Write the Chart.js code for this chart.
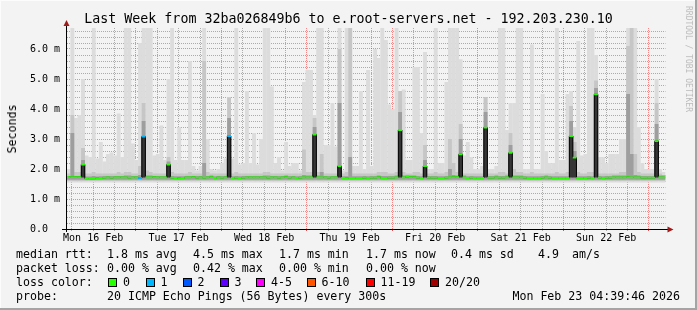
<!DOCTYPE html>
<html>
<head>
<meta charset="utf-8">
<script src="https://cdn.jsdelivr.net/npm/chart.js@4.4.1/dist/chart.umd.min.js"></script>
<style>
html, body { margin: 0; padding: 0; background: #fff; }
#wrap { position: relative; width: 697px; height: 310px; background: #f3f3f3; overflow: hidden;
  font-family: 'DejaVu Sans Mono', monospace; color: #000;
  box-shadow: inset -2px -2px 0 #a4a4a4, inset 1px 1px 0 #fcfcfc; }
#wrap canvas { position: absolute; left: 0; top: 0; }
.t { position: absolute; white-space: pre; font-size: 11.6px; line-height: 14px; }
.box { position: absolute; width: 7px; height: 7px; border: 1px solid #000; top: 278px; }
</style>
</head>
<body>
<div id="wrap">
  <canvas id="smoke" width="697" height="310"></canvas>
  <div class="t" style="left:0;width:697px;text-align:center;top:11px;font-size:13.3px;line-height:16px">Last Week from 32ba026849b6 to e.root-servers.net - 192.203.230.10</div>
  <div class="t" style="left:12px;top:129px;transform:translate(-50%,-50%) rotate(-90deg)">Seconds</div>
  <div class="t" style="left:688px;top:59px;font-size:8px;line-height:10px;color:#bcbcbc;transform:translate(-50%,-50%) rotate(90deg)">RRDTOOL / TOBI OETIKER</div>
  <div id="legend"></div>
</div>
<script>
// hours counted from Mon 16 Feb 00:00, graph starts at 04:39
const START_H = 4.66;
const dayLabels = ['Mon 16 Feb', 'Tue 17 Feb', 'Wed 18 Feb', 'Thu 19 Feb', 'Fri 20 Feb', 'Sat 21 Feb', 'Sun 22 Feb'];

// ms, one value per hour
const smokeLow = [1.55, 1.60, 1.64];
const CORE_BASE = 1.72;

const lightTop = [
  2.0, 7.5, 3.7, 3.8, 5.0, 2.45, 2.4, 7.5, 2.35, 2.9,
  2.25, 2.5, 2.55, 2.45, 3.85, 2.4, 7.5, 7.5, 2.85, 2.3,
  6.2, 7.5, 7.5, 7.5, 2.45, 2.5, 3.45, 2.3, 5.0, 7.5,
  2.3, 3.4, 2.3, 2.3, 5.6, 2.1, 1.95, 2.1, 7.5, 3.0,
  2.0, 1.95, 2.0, 2.2, 2.35, 4.4, 2.35, 7.5, 2.15, 2.2,
  4.6, 2.2, 3.2, 2.15, 3.0, 7.5, 7.5, 4.75, 2.2, 2.4,
  1.95, 2.9, 2.1, 2.2, 2.2, 1.95, 4.9, 5.3, 5.3, 3.8,
  7.5, 7.5, 2.8, 2.8, 4.2, 2.75, 7.5, 1.95, 7.5, 7.5,
  2.1, 2.1, 4.6, 2.0, 5.3, 2.1, 6.0, 5.7, 7.5, 6.3,
  4.15, 4.0, 7.5, 4.6, 4.65, 2.3, 2.3, 5.4, 5.4, 3.2,
  5.9, 2.0, 2.0, 7.5, 2.2, 2.2, 4.9, 7.5, 7.5, 7.5,
  5.66, 2.45, 2.9, 2.4, 2.0, 2.0, 2.1, 4.4, 2.0, 2.0,
  2.1, 7.5, 7.5, 3.3, 4.2, 4.2, 7.5, 7.5, 2.0, 2.0,
  6.15, 2.0, 2.0, 4.5, 2.6, 2.2, 2.2, 7.5, 2.3, 2.3,
  4.5, 4.6, 3.4, 6.27, 2.45, 2.5, 7.5, 7.5, 5.8, 2.4,
  2.4, 2.2, 2.5, 2.5, 2.5, 3.0, 3.0, 7.5, 7.5, 7.5,
  3.4, 2.2, 2.0, 2.0, 2.0, 5.0, 2.0, 1.9
];

const midTop = [
  1.85, 3.8, 1.9, 1.9, 2.7, 1.85, 1.85, 1.9, 1.85, 1.85,
  1.85, 1.85, 1.85, 1.85, 1.9, 1.85, 1.9, 1.9, 1.85, 1.85,
  2.1, 4.2, 1.95, 1.9, 1.85, 1.85, 1.85, 1.85, 2.4, 1.9,
  1.85, 1.85, 1.85, 1.85, 1.9, 1.85, 1.85, 1.85, 5.6, 1.9,
  1.85, 1.85, 1.85, 1.85, 1.85, 4.38, 1.85, 1.9, 1.85, 1.85,
  1.85, 1.85, 1.85, 1.85, 1.85, 1.9, 1.9, 1.85, 1.85, 1.85,
  1.85, 1.85, 1.85, 1.85, 1.85, 1.85, 2.65, 1.9, 1.9, 3.7,
  1.9, 2.5, 1.85, 1.85, 1.85, 1.85, 6.0, 1.85, 1.9, 7.5,
  1.85, 1.85, 1.85, 1.85, 1.85, 1.85, 1.85, 1.9, 1.9, 1.9,
  1.85, 1.85, 1.9, 4.6, 1.9, 1.85, 1.85, 1.9, 1.9, 1.85,
  2.8, 1.85, 1.85, 1.9, 1.85, 1.85, 1.9, 3.0, 2.2, 1.9,
  3.5, 1.85, 1.85, 1.85, 1.85, 1.85, 1.85, 4.4, 1.85, 1.85,
  1.85, 1.9, 1.9, 1.85, 3.2, 2.0, 1.9, 1.9, 1.85, 1.85,
  1.9, 1.85, 1.85, 1.85, 1.85, 1.85, 1.85, 1.9, 1.85, 1.85,
  1.9, 4.1, 2.9, 1.9, 1.85, 1.85, 1.9, 1.9, 4.95, 1.85,
  1.85, 1.85, 1.85, 1.85, 1.85, 1.9, 1.9, 6.1, 7.5, 2.5,
  1.9, 1.85, 1.85, 1.85, 1.85, 4.2, 1.85, 1.8
];

const darkTop = [
  1.77, 3.2, 1.77, 1.77, 2.3, 1.75, 1.75, 1.77, 1.75, 1.76,
  1.77, 1.77, 1.77, 1.77, 1.77, 1.77, 1.78, 1.78, 1.77, 1.77,
  1.8, 3.6, 1.78, 1.78, 1.77, 1.77, 1.77, 1.77, 2.25, 1.77,
  1.76, 1.76, 1.76, 1.77, 1.77, 1.77, 1.77, 1.77, 2.2, 1.77,
  1.78, 1.76, 1.77, 1.77, 1.77, 3.7, 1.76, 1.77, 1.76, 1.77,
  1.77, 1.77, 1.77, 1.77, 1.77, 1.78, 1.78, 1.77, 1.77, 1.77,
  1.77, 1.78, 1.77, 1.77, 1.76, 1.77, 1.8, 1.78, 1.78, 3.4,
  1.78, 1.9, 1.77, 1.77, 1.77, 1.77, 4.2, 1.76, 1.76, 2.4,
  1.76, 1.76, 1.76, 1.77, 1.76, 1.77, 1.77, 1.78, 1.77, 1.77,
  1.77, 1.77, 1.78, 3.9, 1.78, 1.79, 1.78, 1.78, 1.77, 1.76,
  2.3, 1.77, 1.77, 1.77, 1.76, 1.76, 1.77, 2.0, 1.8, 1.78,
  3.0, 1.78, 1.76, 1.77, 1.76, 1.76, 1.76, 3.9, 1.77, 1.77,
  1.78, 1.77, 1.77, 1.78, 2.8, 1.78, 1.78, 1.78, 1.77, 1.76,
  1.76, 1.76, 1.76, 1.77, 1.78, 1.77, 1.76, 1.76, 1.76, 1.76,
  1.76, 3.6, 2.6, 1.76, 1.76, 1.76, 1.77, 1.76, 4.7, 1.77,
  1.76, 1.77, 1.77, 1.78, 1.78, 1.78, 1.78, 4.5, 2.5, 1.8,
  1.78, 1.77, 1.77, 1.77, 1.77, 3.5, 1.78, 1.78
];

const median = [
  1.73, 1.73, 1.73, 1.73, 2.15, 1.68, 1.68, 1.68, 1.69, 1.70,
  1.71, 1.72, 1.71, 1.72, 1.72, 1.72, 1.72, 1.71, 1.72, 1.72,
  1.70, 3.08, 1.72, 1.72, 1.73, 1.72, 1.72, 1.72, 2.15, 1.71,
  1.70, 1.69, 1.70, 1.72, 1.72, 1.73, 1.71, 1.72, 1.71, 1.72,
  1.73, 1.70, 1.72, 1.71, 1.72, 3.10, 1.70, 1.71, 1.70, 1.71,
  1.72, 1.72, 1.72, 1.72, 1.72, 1.72, 1.71, 1.72, 1.72, 1.71,
  1.72, 1.73, 1.71, 1.72, 1.70, 1.71, 1.72, 1.72, 1.72, 3.15,
  1.72, 1.72, 1.72, 1.71, 1.72, 1.72, 2.10, 1.70, 1.69, 1.70,
  1.70, 1.70, 1.70, 1.71, 1.70, 1.71, 1.71, 1.73, 1.70, 1.70,
  1.71, 1.71, 1.72, 3.30, 1.72, 1.74, 1.73, 1.73, 1.71, 1.70,
  2.10, 1.71, 1.71, 1.71, 1.70, 1.70, 1.71, 1.72, 1.73, 1.73,
  2.49, 1.72, 1.70, 1.71, 1.70, 1.70, 1.70, 3.38, 1.71, 1.71,
  1.72, 1.71, 1.71, 1.72, 2.54, 1.72, 1.72, 1.72, 1.71, 1.70,
  1.70, 1.70, 1.70, 1.71, 1.72, 1.71, 1.70, 1.70, 1.70, 1.70,
  1.70, 3.10, 2.38, 1.70, 1.70, 1.70, 1.71, 1.70, 4.49, 1.71,
  1.70, 1.71, 1.71, 1.72, 1.72, 1.72, 1.72, 1.73, 1.72, 1.72,
  1.72, 1.71, 1.71, 1.71, 1.71, 2.93, 1.72, 1.72
];

// lost pings out of 20, per hour
const loss = [
  0,0,0,0,0,0,0,0,0,0, 0,0,0,0,0,0,0,0,0,0, 1,1,0,0,0,0,0,0,0,0,
  0,0,0,0,0,0,0,0,0,0, 0,0,0,0,0,1,0,0,0,0, 0,0,0,0,0,0,0,0,0,0,
  0,0,0,0,0,0,0,0,0,0, 0,0,0,0,0,0,0,0,0,0, 0,0,0,0,0,0,0,0,0,0,
  0,0,0,0,0,0,0,0,0,0, 0,0,0,0,0,0,0,0,0,0, 0,0,0,0,0,0,0,0,0,0,
  0,0,0,0,0,0,0,0,0,0, 0,0,0,0,0,0,0,0,0,0, 0,0,0,0,0,0,0,0,0,0,
  0,0,0,0,0,0,0,0,0,0, 0,0,0,0,0,0,0,0
];

const lossColors = ['#26ff00', '#00b8ff', '#0059ff', '#5e00ff', '#ff00ff', '#ff5500', '#ff0000', '#a10000'];
const lossNames = ['0', '1', '2', '3', '4-5', '6-10', '11-19', '20/20'];

// footer text
const legendRows = [
  [254, [[16, 'median rtt:'], [107, '1.8 ms avg'], [193, '4.5 ms max'], [279, '1.7 ms min'], [366, '1.7 ms now'], [451, '0.4 ms sd'], [538, '4.9'], [572, 'am/s']]],
  [268, [[16, 'packet loss:'], [107, '0.00 % avg'], [193, '0.42 % max'], [279, '0.00 % min'], [366, '0.00 % now']]],
  [282, [[16, 'loss color:']]],
  [296, [[16, 'probe:'], [107, '20 ICMP Echo Pings (56 Bytes) every 300s']]]
];
const boxX = [108, 145.5, 182.5, 219.5, 256, 306.5, 365.5, 430];

const legend = document.getElementById('legend');
legendRows.forEach(([cy, items]) => {
  items.forEach(([x, txt]) => {
    const d = document.createElement('div');
    d.className = 't';
    d.style.left = x + 'px';
    d.style.top = (cy - 7) + 'px';
    d.textContent = txt;
    legend.appendChild(d);
  });
});
boxX.forEach((x, i) => {
  const b = document.createElement('div');
  b.className = 'box';
  b.style.left = x + 'px';
  b.style.background = lossColors[i];
  legend.appendChild(b);
  const d = document.createElement('div');
  d.className = 't';
  d.style.left = (x + 15) + 'px';
  d.style.top = '275px';
  d.textContent = lossNames[i];
  legend.appendChild(d);
});
const stamp = document.createElement('div');
stamp.className = 't';
stamp.style.right = '17px';
stamp.style.top = '289px';
stamp.textContent = 'Mon Feb 23 04:39:46 2026';
legend.appendChild(stamp);

// chart
Chart.defaults.font.family = "'DejaVu Sans Mono', monospace";

const xs = lightTop.map((_, i) => START_H + i + 0.5);
const pts = fn => xs.map((x, i) => ({ x: x, y: fn(i) }));
const barBase = { type: 'bar', grouped: false, barPercentage: 1.08, categoryPercentage: 1, borderWidth: 0 };

const RED = 'rgba(255,0,0,0.45)';
const GREY = 'rgba(100,100,100,0.5)';
const gridHours = [];
for (let h = 6; h <= 168; h += 6) gridHours.push(h);
const gridMs = [];
for (let k = 0; k <= 33; k++) gridMs.push(Math.round(k * 2) / 10);
const isMajor = v => Math.abs(v - Math.round(v)) < 1e-6;

const axesPlugin = {
  id: 'rrdAxes',
  afterDraw(chart) {
    const c = chart.ctx, a = chart.chartArea;
    c.save();
    c.strokeStyle = '#000';
    c.lineWidth = 1;
    c.beginPath();
    c.moveTo(a.left - 5, a.bottom + 0.5);
    c.lineTo(a.right + 3, a.bottom + 0.5);
    c.moveTo(a.left - 0.5, a.bottom + 3);
    c.lineTo(a.left - 0.5, a.top - 3);
    c.stroke();
    c.fillStyle = '#a01c1c';
    c.beginPath();
    c.moveTo(a.right + 8, a.bottom + 0.5);
    c.lineTo(a.right + 2, a.bottom - 2.5);
    c.lineTo(a.right + 2, a.bottom + 3.5);
    c.closePath();
    c.fill();
    c.beginPath();
    c.moveTo(a.left - 0.5, a.top - 8);
    c.lineTo(a.left - 3.5, a.top - 2);
    c.lineTo(a.left + 2.5, a.top - 2);
    c.closePath();
    c.fill();
    c.restore();
  }
};

new Chart(document.getElementById('smoke'), {
  type: 'bar',
  data: {
    datasets: [
      { ...barBase, data: pts(i => [smokeLow[0], lightTop[i]]), backgroundColor: '#dcdcdc', order: 6 },
      { ...barBase, data: pts(i => [smokeLow[1], midTop[i]]), backgroundColor: '#c6c6c6', order: 5 },
      { ...barBase, data: pts(i => [smokeLow[2], darkTop[i]]), backgroundColor: '#9e9e9e', order: 4 },
      { ...barBase, data: pts(i => median[i] > 1.9 ? [CORE_BASE, median[i]] : null).filter(p => p.y), backgroundColor: '#363636', order: 3 },
      { type: 'line', data: pts(i => median[i]), stepped: 'middle', borderColor: '#000', borderWidth: 1, pointRadius: 0, order: 2 },
      { ...barBase, data: pts(i => [median[i] - 0.03, median[i] + 0.03]), backgroundColor: loss.map(l => lossColors[l]), order: 1 }
    ]
  },
  options: {
    responsive: false,
    animation: false,
    devicePixelRatio: 1,
    layout: { padding: { left: 0, right: 31.5, top: 28, bottom: 0 } },
    plugins: { legend: { display: false }, tooltip: { enabled: false }, title: { display: false } },
    scales: {
      x: {
        type: 'linear', min: START_H, max: START_H + 168, offset: false, z: 1,
        afterBuildTicks: s => { s.ticks = gridHours.map(v => ({ value: v })); },
        afterFit: s => { s.height = 81; },
        grid: {
          offset: false, lineWidth: 1, tickLength: 2,
          color: c => (c.tick && c.tick.value % 24 === 0) ? RED : GREY,
          tickColor: c => (c.tick && c.tick.value % 24 === 0) ? '#e05050' : '#aaaaaa'
        },
        border: { display: false, dash: [1, 1] },
        ticks: {
          autoSkip: false, maxRotation: 0, padding: 1, color: '#000', font: { size: 10 },
          callback: v => v % 24 === 12 ? dayLabels[(v - 12) / 24] : ''
        }
      },
      y: {
        type: 'linear', min: 0, max: 6.7, z: 1,
        afterBuildTicks: s => { s.ticks = gridMs.map(v => ({ value: v })); },
        afterFit: s => { s.width = 67; },
        grid: {
          drawTicks: false, lineWidth: 1,
          color: c => (c.tick && isMajor(c.tick.value)) ? RED : GREY
        },
        border: { display: false, dash: [1, 1] },
        ticks: {
          autoSkip: false, padding: 7, color: '#000', font: { size: 10 },
          callback: v => isMajor(v) ? (v === 0 ? '0.0  ' : v.toFixed(1) + ' m') : ''
        }
      }
    }
  },
  plugins: [axesPlugin]
});
</script>
</body>
</html>
